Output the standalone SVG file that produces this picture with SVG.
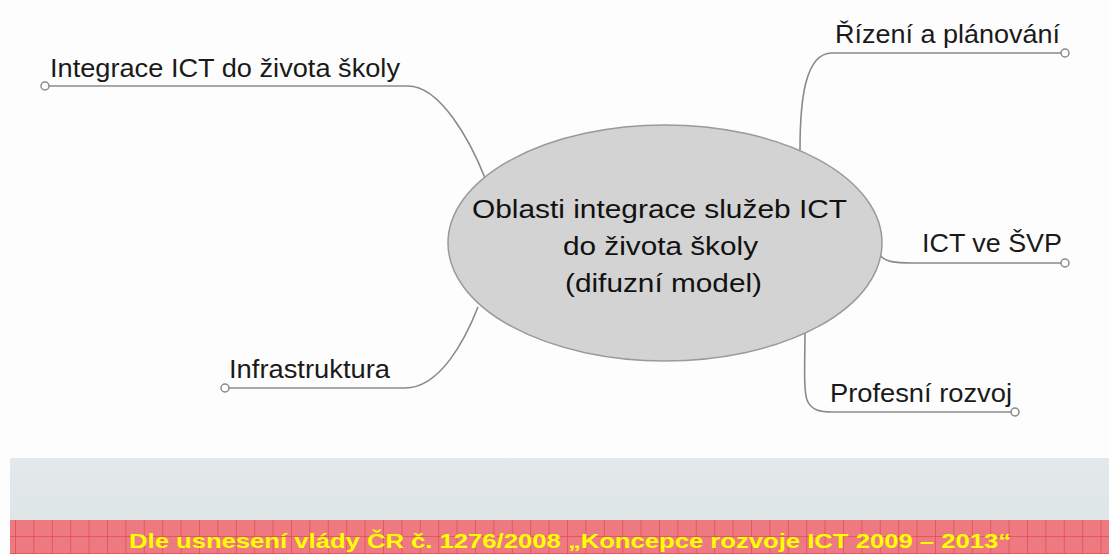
<svg xmlns="http://www.w3.org/2000/svg" width="1109" height="554" viewBox="0 0 1109 554">
<style>
.lbl{font-family:"Liberation Sans",Arial,sans-serif;font-size:25px;fill:#1a1a1a}
.ctr{font-family:"Liberation Sans",Arial,sans-serif;font-size:26px;fill:#111}
.con{fill:none;stroke:#8a8a8a;stroke-width:1.6}
.end{fill:#fff;stroke:#8a8a8a;stroke-width:1.5}
.foot{font-family:"Liberation Sans",Arial,sans-serif;font-size:21px;font-weight:bold;fill:#ffff00}
</style>
<defs>
<linearGradient id="gb" x1="0" y1="0" x2="0" y2="1">
<stop offset="0" stop-color="#e3e9ea"/>
<stop offset="1" stop-color="#dfe6e7"/>
</linearGradient>
<pattern id="grid" x="15" y="520" width="18.4" height="17" patternUnits="userSpaceOnUse">
<line x1="0" y1="0" x2="0" y2="17" stroke="#e0343a" stroke-width="1"/>
<line x1="0" y1="17" x2="18.4" y2="17" stroke="#e0343a" stroke-width="1"/>
</pattern>
</defs>
<rect width="1109" height="554" fill="#fdfdfd"/>
<g id="connectors">
<path class="con" d="M45,86 H408 C440,86 470,140 485,178"/>
<path class="con" d="M1065,53 H832 C805,53 800,100 800,150"/>
<path class="con" d="M880,255 C885,262 895,263 912,263 H1065"/>
<path class="con" d="M805,332 C805,360 803,395 808,402 C812,410 820,412 832,412 H1015"/>
<path class="con" d="M225,388 H405 C440,388 465,340 478,307"/>
</g>
<g id="center">
<ellipse cx="665" cy="243" rx="217" ry="118" fill="#d3d3d3" stroke="#9a9a9a" stroke-width="1.5"/>
<text class="ctr" x="472" y="218" textLength="375" lengthAdjust="spacingAndGlyphs">Oblasti integrace služeb ICT</text>
<text class="ctr" x="563" y="255" textLength="195" lengthAdjust="spacingAndGlyphs">do života školy</text>
<text class="ctr" x="565" y="292" textLength="197" lengthAdjust="spacingAndGlyphs">(difuzní model)</text>
</g>
<g id="n-integrace">
<circle class="end" cx="45" cy="86" r="4"/>
<text class="lbl" x="50" y="77" textLength="350" lengthAdjust="spacingAndGlyphs">Integrace ICT do života školy</text>
</g>
<g id="n-rizeni">
<circle class="end" cx="1065" cy="53" r="4"/>
<text class="lbl" x="835" y="43" textLength="225" lengthAdjust="spacingAndGlyphs">Řízení a plánování</text>
</g>
<g id="n-svp">
<circle class="end" cx="1065" cy="263" r="4"/>
<text class="lbl" x="922" y="252" textLength="140" lengthAdjust="spacingAndGlyphs">ICT ve ŠVP</text>
</g>
<g id="n-profesni">
<circle class="end" cx="1015" cy="412" r="4"/>
<text class="lbl" x="830" y="402" textLength="182" lengthAdjust="spacingAndGlyphs">Profesní rozvoj</text>
</g>
<g id="n-infra">
<circle class="end" cx="225" cy="388" r="4"/>
<text class="lbl" x="229" y="378" textLength="161" lengthAdjust="spacingAndGlyphs">Infrastruktura</text>
</g>
<g id="footer">
<rect x="10" y="458" width="1099" height="62" fill="url(#gb)"/>
<rect x="10" y="520" width="1099" height="34" fill="#ec7a80"/>
<rect x="10" y="520" width="1099" height="34" fill="url(#grid)"/>
<text class="foot" x="129" y="548" textLength="882" lengthAdjust="spacingAndGlyphs">Dle usnesení vlády ČR č. 1276/2008 „Koncepce rozvoje ICT 2009 – 2013“</text>
</g>
</svg>
